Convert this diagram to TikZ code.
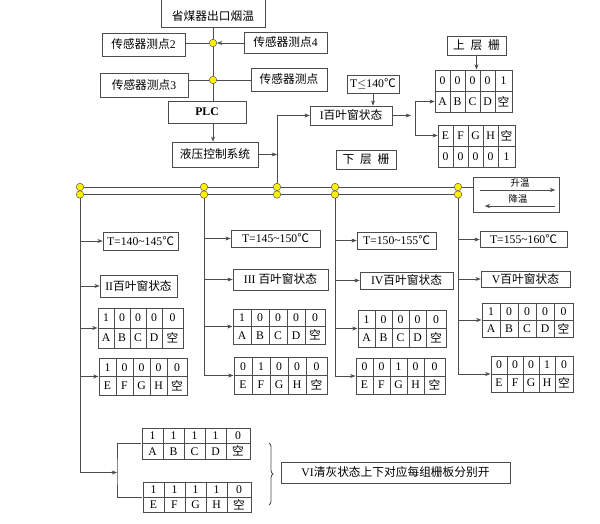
\documentclass[tikz,border=0pt]{standalone}
\usepackage{fontspec}
\setmainfont{Liberation Serif}
\newfontfamily\cjk{Noto Sans CJK SC}
\usepackage{tikz}
\usetikzlibrary{arrows.meta, positioning, matrix, calc, decorations.pathreplacing}
\tikzset{>={Stealth[length=1.6mm,width=1.2mm]}}
\newdimen\unitpx \unitpx=0.3mm
\tikzset{
  wire/.style={draw=black!70, line width=0.5pt},
  box/.style={draw=black!70, line width=0.5pt, inner sep=0pt, font=\fontsize{10}{12}\selectfont},
  sz/.style 2 args={minimum width=#1*\unitpx, minimum height=#2*\unitpx},
  cell/.style={draw=black!70, line width=0.5pt, inner sep=0pt, anchor=center, font=\fontsize{10}{11}\selectfont},
  shutter/.style n args={3}{matrix of nodes, inner sep=0pt,
    nodes={cell, minimum width=#1*\unitpx, minimum height=#3*\unitpx},
    column 5/.style={nodes={minimum width=#2*\unitpx}},
    column sep=-0.5pt, row sep=-0.5pt},
  dot/.style={circle, draw=black!70, fill=yellow, inner sep=0pt, minimum size=7.5*\unitpx},
}
\begin{document}
\begin{tikzpicture}[x=0.3mm, y=-0.3mm]
\useasboundingbox (0,0) rectangle (600,524);
% sensors and control
\node[box, minimum width=104*\unitpx, text height=6mm, text depth=0pt, inner ysep=1.8mm] (inlet) at (213,11) {\cjk 省煤器出口烟温};
\node[box, sz={83}{23}] (sen2) at (143.5,44.5) {{\cjk 传感器测点}2};
\node[box, sz={83}{21}] (sen4) at (285.5,42.5) {{\cjk 传感器测点}4};
\node[box, sz={88}{24}] (sen3) at (144,85) {{\cjk 传感器测点}3};
\node[box, sz={76}{23}] (sen) at (289,79.5) {\cjk 传感器测点};
\node[box, sz={78}{22}] (plc) at (207,112) {\textbf{PLC}};
\node[box, sz={86}{25}] (hyd) at (215,154.5) {\cjk 液压控制系统};
\node[dot] (r1) at (213,43) {};
\node[dot] (r2) at (213,80) {};
\draw[wire] (inlet.south) -- (r1) -- (r2) -- (r2 |- plc.north);
\draw[wire] (sen2.east |- r1) -- (r1);
\draw[wire,->] (sen4.west |- r1) -- (r1);
\draw[wire] (sen3.east |- r2) -- (r2);
\draw[wire] (sen.west |- r2) -- (r2);
\draw[wire,->] (plc.south -| r2) -- (hyd.north -| r2);

% state I, upper and lower grids
\node[box, sz={52}{18}] (tmp1) at (373,84) {T$\leq$140{\cjk ℃}};
\node[box, sz={82}{19}] (win1) at (351,115.5) {I{\cjk 百叶窗状态}};
\node[box, sz={59}{19}] (toplbl) at (476.5,45.5) {\cjk 上\enspace 层\enspace 栅};
\node[box, sz={60}{19}] (botlbl) at (366,159.5) {\cjk 下\enspace 层\enspace 栅};
\matrix (ab1) [shutter={15}{17}{21}] at (473.5,91) {0 & 0 & 0 & 0 & 1\\ A & B & C & D & {\cjk 空}\\};
\matrix (eh1) [shutter={15}{17}{21}] at (476.5,146) {E & F & G & H & {\cjk 空}\\ 0 & 0 & 0 & 0 & 1\\};
\coordinate (fork) at (415,115.5);
\draw[wire,->] (tmp1.south) -- (tmp1.south |- win1.north);
\draw[wire,->,shorten >=1.2mm] (win1.east) -- (fork);
\draw[wire,->] (fork) |- (ab1-2-1.west);
\draw[wire,->] (fork) |- (eh1-1-1.west);
\draw[wire,->] (toplbl.south) -- (toplbl.south |- ab1.north);

% bus
\node[box, sz={86}{35}] (trend) at (516,194.5) {};
\node[inner sep=0pt, font=\fontsize{8}{9}\selectfont] (rise) at (520,183.5) {\cjk 升温};
\node[inner sep=0pt, font=\fontsize{8}{9}\selectfont] (fall) at (518,198.5) {\cjk 降温};
\draw[wire,->] ($(trend.west |- rise.south)+(7,2)$) -- ($(trend.east |- rise.south)+(-4,2)$);
\draw[wire,->] ($(trend.east |- fall.south)+(-4,3)$) -- ($(trend.west |- fall.south)+(12,3)$);
\foreach \x [count=\i] in {80,204,277,335,458}{
  \node[dot] (u\i) at (\x,187) {};
  \node[dot] (d\i) at (\x,194.5) {};
}
\draw[wire] (u1) -- (u2) -- (u3) -- (u4) -- (u5) -- (u5 -| trend.west);
\draw[wire] (d1) -- (d2) -- (d3) -- (d4) -- (d5);
\draw[wire,->] (hyd.east) -- (hyd.east -| u3);
\draw[wire,->] (u3) -- (u3 |- win1.west) -- (win1.west);

% states II to V
\node[box, sz={75}{18}] (tmp2) at (140.5,241) {T=140\textasciitilde145{\cjk ℃}};
\node[box, sz={77}{22}] (win2) at (138.5,286) {II{\cjk 百叶窗状态}};
\matrix (ab2) [shutter={16}{21}{20}] at (140.5,328) {1 & 0 & 0 & 0 & 0\\ A & B & C & D & {\cjk 空}\\};
\matrix (eh2) [shutter={17}{20}{18.5}] at (143,376.5) {1 & 0 & 0 & 0 & 0\\ E & F & G & H & {\cjk 空}\\};
\node[box, sz={89}{17}] (tmp3) at (275.5,238.5) {T=145\textasciitilde150{\cjk ℃}};
\node[box, sz={95}{21}] (win3) at (280.5,279.5) {III {\cjk 百叶窗状态}};
\matrix (ab3) [shutter={18}{20}{17.5}] at (279,326.5) {1 & 0 & 0 & 0 & 0\\ A & B & C & D & {\cjk 空}\\};
\matrix (eh3) [shutter={18}{21}{18.5}] at (280.5,375.5) {0 & 1 & 0 & 0 & 0\\ E & F & G & H & {\cjk 空}\\};
\node[box, sz={79}{17}] (tmp4) at (396.5,240.5) {T=150\textasciitilde155{\cjk ℃}};
\node[box, sz={93}{17}] (win4) at (406.5,280.5) {IV{\cjk 百叶窗状态}};
\matrix (ab4) [shutter={17}{20}{18.5}] at (402,328.5) {1 & 0 & 0 & 0 & 0\\ A & B & C & D & {\cjk 空}\\};
\matrix (eh4) [shutter={17}{21}{18}] at (400.5,376) {0 & 0 & 1 & 0 & 0\\ E & F & G & H & {\cjk 空}\\};
\node[box, sz={87}{16}] (tmp5) at (523.5,239.5) {T=155\textasciitilde160{\cjk ℃}};
\node[box, sz={89}{16}] (win5) at (525.5,279) {V{\cjk 百叶窗状态}};
\matrix (ab5) [shutter={18}{19}{17}] at (527.5,320) {1 & 0 & 0 & 0 & 0\\ A & B & C & D & {\cjk 空}\\};
\matrix (eh5) [shutter={16}{18}{18}] at (532,374) {0 & 0 & 0 & 1 & 0\\ E & F & G & H & {\cjk 空}\\};
\foreach \c/\k in {2/3,4/4,5/5}
  \draw[wire] (d\c) -- (d\c |- eh\k.west);
\foreach \c/\k in {1/2,2/3,4/4,5/5}
  \foreach \n in {tmp,win,ab,eh}
    \draw[wire,->] (d\c |- \n\k.west) -- (\n\k.west);

% state VI
\matrix (ab6) [shutter={21}{24}{15.5}] at (196,443.5) {1 & 1 & 1 & 1 & 0\\ A & B & C & D & {\cjk 空}\\};
\matrix (eh6) [shutter={21}{24}{15}] at (197,497.5) {1 & 1 & 1 & 1 & 0\\ E & F & G & H & {\cjk 空}\\};
\node[box, sz={229}{21}] (win6) at (395.5,472.5) {VI{\cjk 清灰状态上下对应每组栅板分别开}};
\coordinate (hub) at (117,472.5);
\draw[wire,->] (d1) |- (hub);
\draw[wire] (ab6.west) -| (hub) |- (eh6.west);
\draw[wire, line width=0.7pt, decorate, decoration={brace, amplitude=1.2mm}] (269,443) -- (269,505);
\end{tikzpicture}
\end{document}
